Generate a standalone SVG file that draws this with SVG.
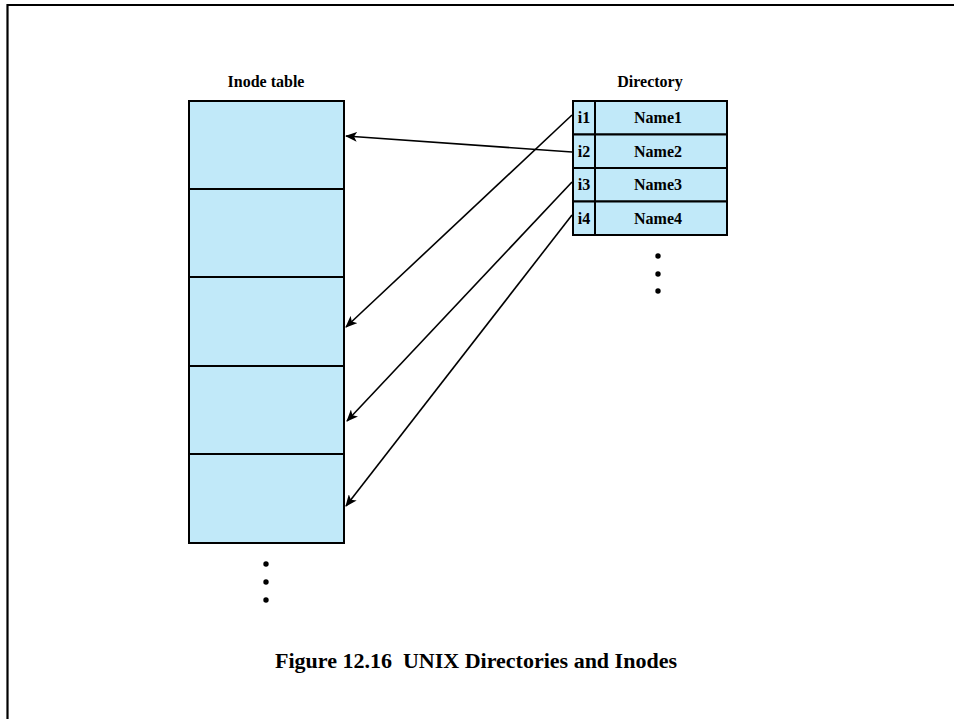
<svg xmlns="http://www.w3.org/2000/svg" width="954" height="719" viewBox="0 0 954 719">
  <style>
    .cell { fill: #C1E9F9; stroke: #000; stroke-width: 2; }
    .lbl { font-family: 'Liberation Serif', 'DejaVu Serif', serif; font-weight: 700; font-size: 16px; fill: #000; }
    .cap { font-family: 'Liberation Serif', 'DejaVu Serif', serif; font-weight: 700; font-size: 20px; fill: #000; }
    .conn { stroke: #000; stroke-width: 1.6; fill: none; marker-end: url(#arrow); }
    .dot { fill: #000; }
  </style>
  <defs>
    <marker id="arrow" viewBox="0 0 12 10" refX="11" refY="5" markerWidth="12" markerHeight="10" markerUnits="userSpaceOnUse" orient="auto">
      <path d="M0,0 L12,5 L0,10 L3,5 Z" fill="#000"/>
    </marker>
  </defs>

  <rect width="954" height="719" fill="#fff"/>
  <!-- page frame -->
  <path d="M7.5,719 V5 H954" fill="none" stroke="#000" stroke-width="2.2"/>

  <!-- inode table -->
  <g id="inode-table">
    <text class="lbl" x="266" y="87" text-anchor="middle">Inode table</text>
    <rect class="cell" x="189" y="101" width="155" height="88"/>
    <rect class="cell" x="189" y="189" width="155" height="88"/>
    <rect class="cell" x="189" y="277" width="155" height="89"/>
    <rect class="cell" x="189" y="366" width="155" height="88"/>
    <rect class="cell" x="189" y="454" width="155" height="89"/>
    <circle class="dot" cx="266" cy="564" r="2.7"/>
    <circle class="dot" cx="266" cy="582" r="2.7"/>
    <circle class="dot" cx="266" cy="600" r="2.7"/>
  </g>

  <!-- directory -->
  <g id="directory">
    <text class="lbl" x="650" y="87" text-anchor="middle">Directory</text>
    <g id="entry1">
      <rect class="cell" x="573" y="101" width="22" height="33.5"/>
      <rect class="cell" x="595" y="101" width="132" height="33.5"/>
      <text class="lbl" x="584" y="123" text-anchor="middle">i1</text>
      <text class="lbl" x="658" y="123" text-anchor="middle">Name1</text>
    </g>
    <g id="entry2">
      <rect class="cell" x="573" y="134.5" width="22" height="33.5"/>
      <rect class="cell" x="595" y="134.5" width="132" height="33.5"/>
      <text class="lbl" x="584" y="156.5" text-anchor="middle">i2</text>
      <text class="lbl" x="658" y="156.5" text-anchor="middle">Name2</text>
    </g>
    <g id="entry3">
      <rect class="cell" x="573" y="168" width="22" height="33.5"/>
      <rect class="cell" x="595" y="168" width="132" height="33.5"/>
      <text class="lbl" x="584" y="190" text-anchor="middle">i3</text>
      <text class="lbl" x="658" y="190" text-anchor="middle">Name3</text>
    </g>
    <g id="entry4">
      <rect class="cell" x="573" y="201.5" width="22" height="33.5"/>
      <rect class="cell" x="595" y="201.5" width="132" height="33.5"/>
      <text class="lbl" x="584" y="223.5" text-anchor="middle">i4</text>
      <text class="lbl" x="658" y="223.5" text-anchor="middle">Name4</text>
    </g>
    <circle class="dot" cx="658" cy="256" r="2.7"/>
    <circle class="dot" cx="658" cy="274" r="2.7"/>
    <circle class="dot" cx="658" cy="291" r="2.7"/>
  </g>

  <!-- pointers from directory entries to inodes -->
  <g id="connectors">
    <line class="conn" x1="572" y1="115" x2="346" y2="327"/>
    <line class="conn" x1="572" y1="152" x2="346" y2="136"/>
    <line class="conn" x1="572" y1="182" x2="347" y2="421"/>
    <line class="conn" x1="572" y1="215" x2="346" y2="506"/>
  </g>

  <text class="cap" x="476" y="668" text-anchor="middle" textLength="402" lengthAdjust="spacingAndGlyphs" xml:space="preserve">Figure 12.16  UNIX Directories and Inodes</text>
</svg>
